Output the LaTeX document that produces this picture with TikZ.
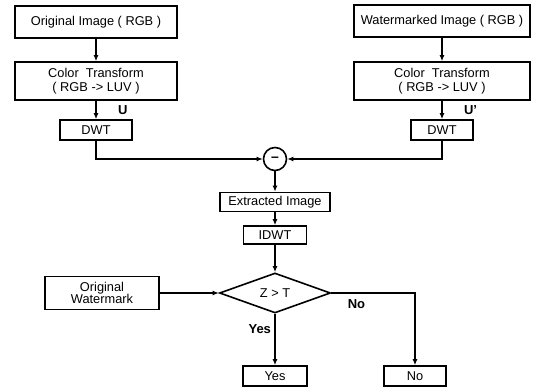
\documentclass[tikz,border=0pt]{standalone}
\usepackage{fontspec}
\setmainfont{Liberation Sans}
\usetikzlibrary{shapes.geometric,arrows.meta}

\tikzset{
  blk/.style={draw, line width=1.6pt, align=center, inner sep=1pt, font=\fontsize{12.8}{13.5}\selectfont},
  dec/.style={draw, diamond, line width=1.6pt, inner sep=0pt, font=\fontsize{12.8}{14}\selectfont},
  lbl/.style={font=\fontsize{13}{15}\selectfont\bfseries},
  flow/.style={line width=1.4pt, -{Latex[length=6pt,width=5pt]}}
}

\begin{document}
\begin{tikzpicture}[x=1pt,y=1pt]
    \useasboundingbox (0,0) rectangle (537,387);

    % Entradas
    \node[blk, minimum width=162pt, minimum height=32pt] (orig) at (96,365) {Original Image ( RGB )};
    \node[blk, minimum width=176pt, minimum height=32pt] (wmimg) at (442,366) {Watermarked Image ( RGB )};

    % Transformaciones de color
    \node[blk, minimum width=162pt, minimum height=38pt] (ctl) at (96,306) {Color\ \ Transform\\( RGB -> LUV )};
    \node[blk, minimum width=176pt, minimum height=38pt] (ctr) at (442,306) {Color\ \ Transform\\( RGB -> LUV )};

    % DWT
    \node[blk, minimum width=72pt, minimum height=20pt] (dwtl) at (96,257) {DWT};
    \node[blk, minimum width=62pt, minimum height=20pt] (dwtr) at (442,257) {DWT};

    % Resta y extraccion
    \node[draw, circle, line width=1.6pt, minimum size=23pt, inner sep=0pt, font=\fontsize{14}{14}\selectfont\bfseries] (sub) at (275,228) {--};
    \node[blk, minimum width=110pt, minimum height=19pt] (ext) at (275,185) {Extracted Image};
    \node[blk, minimum width=63pt, minimum height=18pt] (idwt) at (275,152) {IDWT};

    % Decision
    \node[dec, minimum width=111pt, minimum height=40pt, aspect=2.8] (cmp) at (275,94) {Z > T};
    \node[blk, minimum width=114pt, minimum height=33pt, font=\fontsize{12.8}{12}\selectfont] (owm) at (102,94) {Original\\Watermark};
    \node[blk, minimum width=64pt, minimum height=20pt] (yes) at (275,11) {Yes};
    \node[blk, minimum width=62pt, minimum height=20pt] (no) at (415,11) {No};

    % Flechas
    \draw[flow] (orig) -- (ctl);
    \draw[flow] (wmimg) -- (ctr);
    \draw[flow] (ctl) -- (dwtl) node[midway,right=18pt,lbl] {U};
    \draw[flow] (ctr) -- (dwtr) node[midway,right=18pt,lbl] {U'};
    \draw[flow] (dwtl) |- (sub);
    \draw[flow] (dwtr) |- (sub);
    \draw[flow] (sub) -- (ext);
    \draw[flow] (ext) -- (idwt);
    \draw[flow] (idwt) -- (cmp);
    \draw[flow] (owm) -- (cmp);
    \draw[flow] (cmp) -- (yes) node[pos=0.3,left,lbl] {Yes};
    \draw[flow] (cmp.east) -| (no) node[pos=0.15,below=3pt,lbl] {No};
\end{tikzpicture}
\end{document}
